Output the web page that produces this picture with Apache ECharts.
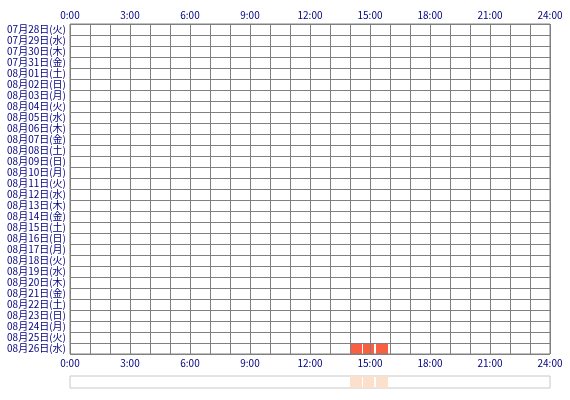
<!DOCTYPE html>
<html>
<head>
<meta charset="utf-8">
<script src="https://cdn.jsdelivr.net/npm/echarts@6/dist/echarts.min.js"></script>
<style>
html,body{margin:0;padding:0;background:#fff;}
#c{width:570px;height:400px;}
</style>
</head>
<body>
<div id="c"></div>
<script>
var dates = [
  "07月28日(火)","07月29日(水)","07月30日(木)","07月31日(金)",
  "08月01日(土)","08月02日(日)","08月03日(月)","08月04日(火)",
  "08月05日(水)","08月06日(木)","08月07日(金)","08月08日(土)",
  "08月09日(日)","08月10日(月)","08月11日(火)","08月12日(水)",
  "08月13日(木)","08月14日(金)","08月15日(土)","08月16日(日)",
  "08月17日(月)","08月18日(火)","08月19日(水)","08月20日(木)",
  "08月21日(金)","08月22日(土)","08月23日(日)","08月24日(月)",
  "08月25日(火)","08月26日(水)"
];
var sessionDates = ["08月26日(水)","08月26日(水)","08月26日(水)"];
var sessionStarts = ["14:00","14:39","15:18"];
var sessionEnds = ["14:36","15:12","15:54"];

function toHours(s){ var p = s.split(":"); return +p[0] + (+p[1])/60; }

var mainData = [], stripData = [];
for (var i = 0; i < sessionDates.length; i++) {
  var ci = dates.indexOf(sessionDates[i]);
  mainData.push([ci, toHours(sessionStarts[i]), toHours(sessionEnds[i])]);
  stripData.push([0, toHours(sessionStarts[i]), toHours(sessionEnds[i])]);
}

function renderBlock(color) {
  return function(params, api) {
    var c = api.value(0);
    var p1 = api.coord([api.value(1), c]);
    var p2 = api.coord([api.value(2), c]);
    var h = api.size([0, 1])[1];
    var shape = echarts.graphic.clipRectByRect({
      x: p1[0], y: p1[1] - h/2, width: p2[0] - p1[0], height: h
    }, {
      x: params.coordSys.x, y: params.coordSys.y,
      width: params.coordSys.width, height: params.coordSys.height
    });
    return shape && { type: 'rect', shape: shape, style: { fill: color } };
  };
}

var labelColor = '#000080';
var gridColor = '#808080';
var fontFam = '"Noto Sans CJK JP", sans-serif';
var fmt = function(v){ return v + ':00'; };

var chart = echarts.init(document.getElementById('c'), null, {renderer:'canvas'});
chart.setOption({
  animation: false,
  backgroundColor: '#fff',
  grid: [
    {left: 70, top: 24, width: 480, height: 330, show: true, borderColor: gridColor, borderWidth: 1, z: 3},
    {left: 70, top: 376, width: 480, height: 12, show: true, borderColor: '#c8c8c8', borderWidth: 1}
  ],
  xAxis: [
    {type: 'value', gridIndex: 0, position: 'top', min: 0, max: 24, interval: 3,
     axisLine: {show: false}, axisTick: {show: false},
     axisLabel: {formatter: fmt, color: labelColor, fontSize: 10, fontFamily: fontFam, margin: 4},
     splitLine: {show: true, lineStyle: {color: gridColor, width: 1}},
     minorTick: {show: false, splitNumber: 3},
     minorSplitLine: {show: true, lineStyle: {color: gridColor, width: 1}}, z: 3},
    {type: 'value', gridIndex: 0, position: 'bottom', min: 0, max: 24, interval: 3,
     axisLine: {show: false}, axisTick: {show: false},
     axisLabel: {formatter: fmt, color: labelColor, fontSize: 10, fontFamily: fontFam, margin: 4},
     splitLine: {show: false}},
    {type: 'value', gridIndex: 1, min: 0, max: 24, show: false, splitLine: {show: false}}
  ],
  yAxis: [
    {type: 'category', gridIndex: 0, data: dates, inverse: true,
     axisLine: {show: false}, axisTick: {show: false},
     axisLabel: {color: labelColor, fontSize: 10, fontFamily: fontFam, margin: 4, interval: 0},
     splitLine: {show: true, interval: 0, lineStyle: {color: gridColor, width: 1}}, z: 3},
    {type: 'category', gridIndex: 1, data: [''], show: false}
  ],
  series: [
    {type: 'custom', xAxisIndex: 0, yAxisIndex: 0, z: 1,
     renderItem: renderBlock('#fa5f44'), encode: {x: [1, 2], y: 0}, data: mainData},
    {type: 'custom', xAxisIndex: 2, yAxisIndex: 1, z: 1,
     renderItem: renderBlock('#fde0cc'), encode: {x: [1, 2], y: 0}, data: stripData}
  ]
});
</script>
</body>
</html>
